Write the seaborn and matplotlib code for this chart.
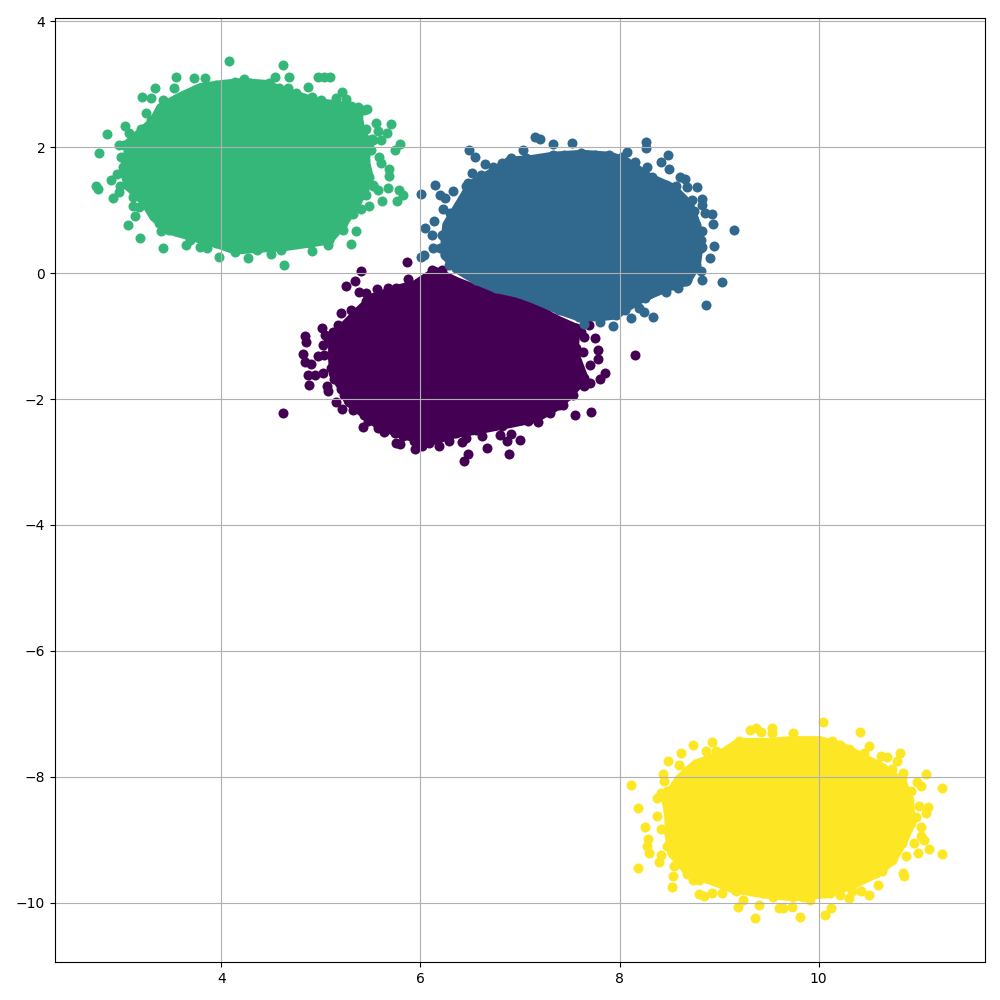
import matplotlib
matplotlib.use("Agg")
import matplotlib.pyplot as plt
import pandas as pd
import seaborn as sns

# solid body outlines of the four blobs
purple_edge_x = [5.12, 5.12, 5.25, 5.38, 5.52, 5.75, 5.95, 6.15, 6.36, 6.62, 7.03, 7.33, 7.56, 7.54, 7.64, 7.49, 7.39, 7.16, 6.82, 6.56, 6.36, 6.09, 5.82, 5.58, 5.45, 5.28, 5.22, 5.13]
purple_edge_y = [-1.35, -1.09, -0.82, -0.61, -0.40, -0.27, -0.19, 0.02, -0.14, -0.30, -0.40, -0.72, -0.88, -1.25, -1.67, -1.93, -2.09, -2.30, -2.41, -2.49, -2.54, -2.67, -2.56, -2.41, -2.25, -2.04, -1.83, -1.61]
blue_edge_x = [6.25, 6.27, 6.39, 6.51, 6.69, 6.89, 7.13, 7.33, 7.63, 7.90, 8.06, 8.30, 8.53, 8.70, 8.77, 8.80, 8.77, 8.67, 8.53, 8.30, 8.16, 7.96, 7.80, 7.59, 7.39, 7.16, 6.99, 6.76, 6.56, 6.36, 6.25]
blue_edge_y = [0.56, 0.77, 1.08, 1.40, 1.56, 1.77, 1.80, 1.85, 1.88, 1.85, 1.77, 1.51, 1.35, 1.08, 0.77, 0.50, 0.13, -0.13, -0.19, -0.34, -0.45, -0.66, -0.69, -0.69, -0.58, -0.42, -0.32, -0.24, -0.11, 0.08, 0.29]
green_edge_x = [3.06, 3.07, 3.19, 3.32, 3.39, 3.57, 3.79, 4.01, 4.21, 4.45, 4.65, 4.78, 4.98, 5.22, 5.37, 5.40, 5.48, 5.44, 5.48, 5.43, 5.32, 5.22, 5.08, 4.88, 4.61, 4.38, 4.14, 3.94, 3.71, 3.47, 3.32, 3.24, 3.07, 3.02]
green_edge_y = [1.85, 2.06, 2.23, 2.41, 2.62, 2.78, 2.94, 2.99, 3.02, 2.99, 2.86, 2.80, 2.70, 2.65, 2.51, 2.22, 2.06, 1.80, 1.53, 1.32, 1.01, 0.79, 0.53, 0.48, 0.42, 0.40, 0.37, 0.48, 0.58, 0.69, 0.90, 1.11, 1.38, 1.64]
yellow_edge_x = [8.50, 8.47, 8.60, 8.77, 9.00, 9.20, 9.47, 9.74, 10.01, 10.21, 10.41, 10.64, 10.84, 10.91, 10.93, 10.84, 10.74, 10.58, 10.34, 10.07, 9.74, 9.44, 9.14, 8.87, 8.67, 8.53, 8.50]
yellow_edge_y = [-8.63, -8.36, -8.04, -7.80, -7.67, -7.46, -7.46, -7.43, -7.43, -7.51, -7.67, -7.86, -8.10, -8.36, -8.73, -9.05, -9.32, -9.53, -9.71, -9.85, -9.90, -9.85, -9.77, -9.61, -9.47, -9.21, -8.89]

# bumps along the body outlines
purple_bump_x = [5.07, 5.12, 5.03, 5.10, 5.13, 5.23, 5.32, 5.43, 5.57, 5.74, 5.82, 6.09, 6.29, 6.46, 6.62, 6.82, 7.08, 7.18, 7.43, 7.53, 7.64, 7.61, 7.56, 7.61, 5.38, 5.45, 5.75, 6.12, 6.22]
purple_bump_y = [-1.03, -0.93, -1.30, -1.51, -1.69, -1.93, -2.17, -2.25, -2.46, -2.54, -2.59, -2.70, -2.67, -2.62, -2.59, -2.43, -2.35, -2.37, -2.09, -1.93, -1.80, -1.61, -1.19, -0.93, -0.30, -0.45, -0.24, 0.05, 0.05]
blue_bump_x = [6.32, 6.22, 6.20, 6.29, 6.39, 6.30, 6.46, 6.61, 6.82, 6.91, 7.06, 7.33, 7.44, 7.61, 7.75, 7.89, 8.03, 8.33, 8.47, 8.73, 8.83, 8.75, 8.83, 8.82, 8.82, 8.73, 8.82, 8.68, 8.26, 8.20, 8.06]
blue_bump_y = [0.77, 0.61, 0.40, 0.13, 1.08, 0.95, 1.38, 1.56, 1.75, 1.83, 1.83, 1.87, 1.88, 1.90, 1.87, 1.88, 1.85, 1.53, 1.40, 1.16, 1.08, 0.98, 0.66, 0.53, 0.40, 0.19, 0.03, -0.11, -0.39, -0.56, -0.58]
green_bump_x = [3.73, 3.94, 4.14, 4.29, 4.48, 4.58, 4.75, 4.91, 5.00, 3.41, 3.29, 3.19, 3.11, 3.02, 2.99, 3.01, 3.07, 3.26, 3.37, 3.54, 3.68, 4.14, 4.36, 4.75, 5.07, 5.22, 5.32, 5.45, 5.52, 5.60, 5.58, 5.52, 5.43, 5.30, 5.35, 5.50, 5.45]
green_bump_y = [2.91, 2.99, 3.04, 3.02, 3.02, 2.94, 2.86, 2.80, 2.75, 2.62, 2.43, 2.28, 2.14, 2.04, 1.84, 1.69, 1.38, 1.11, 0.79, 0.66, 0.53, 0.34, 0.37, 0.50, 0.45, 0.69, 0.93, 1.24, 1.40, 1.75, 1.85, 2.12, 2.59, 2.65, 2.49, 1.96, 2.28]
yellow_bump_x = [8.45, 8.48, 8.42, 8.50, 8.52, 8.48, 8.58, 8.68, 8.80, 9.17, 9.34, 9.54, 9.84, 10.12, 10.22, 10.34, 10.64, 10.88, 10.96, 11.03, 10.98, 11.01, 10.93, 10.84, 10.74, 10.59, 10.46, 10.31, 10.22, 10.14, 9.20, 9.10, 8.80, 8.67]
yellow_bump_y = [-8.07, -8.23, -8.25, -8.57, -8.86, -9.10, -9.24, -9.55, -9.63, -9.82, -9.82, -9.90, -9.90, -9.84, -9.87, -9.82, -9.50, -9.26, -9.05, -8.94, -8.63, -8.47, -8.23, -8.02, -7.88, -7.80, -7.62, -7.56, -7.49, -7.43, -7.43, -7.56, -7.78, -7.91]

# loose points around each blob
purple_x = [5.86, 5.40, 5.87, 5.34, 5.25, 5.56, 5.67, 5.45, 5.30, 5.20, 5.17, 5.01, 5.04, 4.84, 4.85, 5.02, 4.82, 4.97, 4.84, 4.90, 4.87, 4.94, 5.02, 4.88, 5.06, 5.07, 5.20, 5.15, 5.21, 4.62, 5.47, 5.42, 5.63, 5.75, 5.79, 5.93, 5.94, 6.02, 6.19, 6.42, 6.48, 6.44, 6.67, 6.89, 6.80, 6.91, 6.87, 7.00, 7.30, 7.55, 7.71, 7.70, 7.85, 7.80, 7.78, 7.78, 8.16, 7.70, 7.63, 7.75, 7.64, 7.69]
purple_y = [0.18, 0.04, -0.10, -0.12, -0.21, -0.26, -0.23, -0.31, -0.58, -0.63, -0.82, -0.87, -0.99, -1.00, -1.10, -1.14, -1.28, -1.31, -1.42, -1.44, -1.62, -1.62, -1.58, -1.78, -1.79, -1.87, -1.84, -2.05, -2.16, -2.22, -2.35, -2.45, -2.53, -2.70, -2.71, -2.67, -2.79, -2.75, -2.75, -2.69, -2.88, -2.98, -2.78, -2.88, -2.57, -2.56, -2.66, -2.65, -2.23, -2.25, -2.21, -1.75, -1.59, -1.68, -1.22, -1.37, -1.30, -1.46, -1.26, -1.03, -1.01, -0.83]
blue_x = [7.15, 7.20, 7.33, 7.52, 8.27, 8.27, 6.49, 6.55, 7.03, 8.49, 8.42, 8.16, 8.28, 8.50, 8.08, 6.65, 6.73, 8.61, 8.66, 8.78, 8.68, 8.57, 6.15, 6.01, 6.20, 6.33, 6.25, 6.48, 6.52, 6.23, 8.83, 8.86, 8.93, 8.94, 9.15, 6.14, 6.05, 6.12, 6.13, 6.04, 6.01, 8.95, 8.91, 8.83, 8.83, 9.03, 8.87, 8.47, 8.59, 8.34, 8.25, 8.12, 7.93, 7.80, 7.64]
blue_y = [2.16, 2.13, 2.05, 2.06, 2.08, 1.99, 1.95, 1.84, 1.96, 1.87, 1.77, 1.77, 1.68, 1.65, 1.93, 1.73, 1.69, 1.52, 1.50, 1.37, 1.36, 1.38, 1.40, 1.26, 1.24, 1.31, 1.19, 1.43, 1.59, 1.02, 1.18, 0.96, 0.94, 0.78, 0.69, 0.82, 0.72, 0.60, 0.39, 0.29, 0.25, 0.43, 0.24, 0.42, -0.11, -0.15, -0.51, -0.30, -0.24, -0.69, -0.62, -0.71, -0.84, -0.77, -0.81]
green_x = [4.08, 4.62, 3.54, 3.72, 3.83, 4.23, 4.54, 4.68, 4.97, 5.09, 5.03, 3.33, 3.52, 3.20, 3.29, 3.41, 4.87, 4.67, 5.21, 5.15, 5.25, 3.24, 5.46, 5.37, 5.55, 5.70, 5.66, 5.57, 3.03, 3.07, 2.85, 2.97, 2.77, 5.79, 5.74, 5.60, 5.51, 5.68, 5.68, 2.89, 2.95, 2.74, 2.76, 2.98, 2.97, 2.91, 3.11, 3.11, 3.17, 3.13, 3.06, 3.18, 3.41, 3.39, 3.64, 3.78, 3.85, 3.98, 4.27, 4.63, 4.50, 4.60, 4.91, 5.30, 5.35, 5.48, 5.40, 5.61, 5.76, 5.82, 5.78, 5.67, 5.57, 5.52]
green_y = [3.37, 3.30, 3.11, 3.10, 3.10, 3.08, 3.12, 3.11, 3.11, 3.12, 3.12, 2.94, 2.94, 2.79, 2.78, 2.75, 2.95, 2.94, 2.88, 2.78, 2.76, 2.54, 2.60, 2.63, 2.38, 2.37, 2.22, 2.26, 2.34, 2.23, 2.21, 2.04, 1.90, 2.05, 1.96, 2.12, 2.13, 1.66, 1.54, 1.48, 1.58, 1.39, 1.33, 1.39, 1.28, 1.19, 1.20, 1.07, 1.05, 0.90, 0.76, 0.56, 0.39, 0.67, 0.45, 0.42, 0.40, 0.25, 0.24, 0.13, 0.31, 0.37, 0.35, 0.46, 0.66, 1.07, 1.01, 1.15, 1.15, 1.24, 1.32, 1.35, 1.32, 1.38]
yellow_x = [10.05, 10.42, 9.37, 9.31, 9.42, 9.53, 9.53, 9.74, 8.74, 8.93, 8.87, 8.97, 8.62, 8.49, 8.60, 10.51, 10.82, 10.63, 10.69, 10.79, 10.85, 11.08, 10.99, 11.03, 11.24, 8.12, 8.44, 8.38, 8.19, 8.38, 8.26, 8.42, 8.29, 8.28, 8.30, 8.42, 8.40, 8.19, 8.55, 8.54, 8.53, 8.74, 8.80, 8.85, 8.93, 9.03, 9.19, 9.24, 9.40, 9.36, 9.60, 9.64, 9.73, 9.81, 10.07, 10.13, 9.91, 10.31, 10.51, 10.60, 10.43, 10.85, 10.86, 11.24, 11.11, 11.06, 11.00, 11.10, 11.08, 11.03]
yellow_y = [-7.13, -7.28, -7.22, -7.25, -7.28, -7.23, -7.30, -7.30, -7.50, -7.44, -7.59, -7.59, -7.62, -7.75, -7.81, -7.51, -7.62, -7.67, -7.68, -7.75, -7.94, -7.96, -8.08, -8.14, -8.17, -8.13, -7.96, -8.33, -8.49, -8.62, -8.79, -8.83, -8.99, -9.10, -9.21, -9.24, -9.36, -9.44, -9.42, -9.57, -9.75, -9.63, -9.86, -9.89, -9.84, -9.84, -10.07, -9.96, -10.04, -10.24, -10.08, -10.08, -10.07, -10.23, -10.20, -10.08, -9.95, -9.93, -9.87, -9.71, -9.82, -9.53, -9.57, -9.22, -9.15, -9.00, -9.21, -8.48, -8.58, -8.79]

clusters = [
    ("#440154", purple_x + purple_bump_x, purple_y + purple_bump_y, purple_edge_x, purple_edge_y),
    ("#31688e", blue_x + blue_bump_x, blue_y + blue_bump_y, blue_edge_x, blue_edge_y),
    ("#35b779", green_x + green_bump_x, green_y + green_bump_y, green_edge_x, green_edge_y),
    ("#fde725", yellow_x + yellow_bump_x, yellow_y + yellow_bump_y, yellow_edge_x, yellow_edge_y),
]

fig, ax = plt.subplots(figsize=(10, 10))
for color, px, py, ex, ey in clusters:
    # thick outline so the body reaches as far as the marker radius
    ax.fill(ex, ey, facecolor=color, edgecolor=color, lw=7, joinstyle="round")
    df = pd.DataFrame({"x": px + ex, "y": py + ey})
    sns.scatterplot(data=df, x="x", y="y", color=color, s=52, linewidth=0, ax=ax)

ax.set_xlim(2.327, 11.673)
ax.set_ylim(-10.94, 4.05)
ax.set_xlabel("")
ax.set_ylabel("")
ax.grid(True)
fig.subplots_adjust(left=0.055, right=0.985, top=0.982, bottom=0.038)
fig.savefig("out.png", dpi=100)
